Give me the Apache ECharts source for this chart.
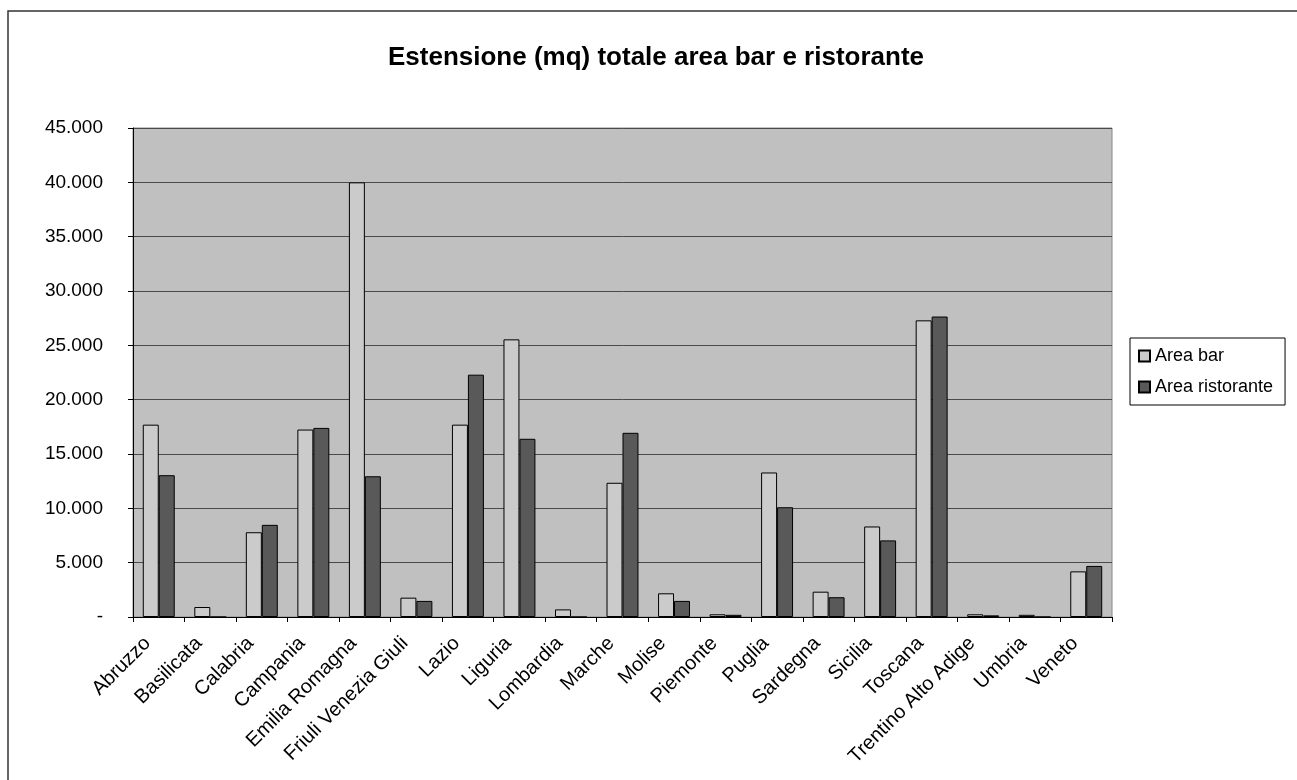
<!DOCTYPE html>
<html>
<head>
<meta charset="utf-8">
<script src="https://cdn.jsdelivr.net/npm/echarts@6/dist/echarts.min.js"></script>
<style>
  html, body { margin: 0; padding: 0; background: #fff; }
  #chart { width: 1297px; height: 780px; }
</style>
</head>
<body>
<div id="chart"></div>
<script>
var regioni = ['Abruzzo', 'Basilicata', 'Calabria', 'Campania', 'Emilia Romagna', 'Friuli Venezia Giulia',
  'Lazio', 'Liguria', 'Lombardia', 'Marche', 'Molise', 'Piemonte', 'Puglia', 'Sardegna', 'Sicilia',
  'Toscana', 'Trentino Alto Adige', 'Umbria', 'Veneto'];
var areaBar = [17700, 920, 7800, 17250, 40000, 1780, 17700, 25550, 700, 12350, 2180, 250, 13300, 2330, 8330, 27300, 250, 200, 4200];
var areaRistorante = [13050, 0, 8480, 17400, 12950, 1480, 22300, 16400, 0, 16950, 1480, 200, 10100, 1820, 7050, 27650, 150, 0, 4700];
var yTicks = { min: 0, max: 45000, interval: 5000 };

function fmt(v) {
  if (v === 0) return '-';
  return String(v).replace(/\B(?=(\d{3})+(?!\d))/g, '.');
}

var chart = echarts.init(document.getElementById('chart'));
chart.setOption({
  backgroundColor: '#fff',
  animation: false,
  textStyle: { fontFamily: 'Liberation Sans, Arial, sans-serif', color: '#000' },
  title: {
    text: 'Estensione (mq) totale area bar e ristorante',
    left: 651, top: 40, textAlign: 'center',
    textStyle: { fontSize: 26, fontWeight: 'bold', color: '#000' }
  },
  graphic: [{
    type: 'rect',
    shape: { x: 8, y: 11, width: 1300, height: 800 },
    style: { fill: 'none', stroke: '#333', lineWidth: 1.5 },
    silent: true
  }],
  legend: {
    orient: 'vertical',
    left: 1130, top: 338,
    padding: [9, 12, 9, 8],
    icon: 'rect',
    itemWidth: 11, itemHeight: 11, itemGap: 13,
    borderColor: '#000', borderWidth: 1,
    textStyle: { fontSize: 18, color: '#000' },
    data: ['Area bar', 'Area ristorante']
  },
  grid: {
    left: 133, right: 185, top: 128, bottom: 163,
    show: true, backgroundColor: '#c0c0c0', borderColor: '#888', borderWidth: 1
  },
  xAxis: {
    type: 'category',
    data: regioni,
    axisLine: { lineStyle: { color: '#000', width: 1 } },
    axisTick: { show: true, length: 5, lineStyle: { color: '#000' } },
    axisLabel: {
      rotate: 45, fontSize: 20, color: '#000', margin: 12, padding: [0, 16, 0, 0], interval: 0,
      width: 172, overflow: 'truncate', ellipsis: ''
    }
  },
  yAxis: {
    type: 'value',
    min: yTicks.min, max: yTicks.max, interval: yTicks.interval,
    axisLine: { show: true, lineStyle: { color: '#000' } },
    axisTick: { show: true, length: 5, lineStyle: { color: '#000' } },
    splitLine: { lineStyle: { color: '#4a4a4a', width: 1 } },
    axisLabel: { fontSize: 19, color: '#000', margin: 30, formatter: fmt }
  },
  series: [
    {
      name: 'Area bar', type: 'bar', data: areaBar,
      barGap: '0%', barCategoryGap: '38%',
      itemStyle: { color: '#cbcbcb', borderColor: '#000', borderWidth: 1 }
    },
    {
      name: 'Area ristorante', type: 'bar', data: areaRistorante,
      itemStyle: { color: '#595959', borderColor: '#000', borderWidth: 1 }
    }
  ]
});
</script>
</body>
</html>
